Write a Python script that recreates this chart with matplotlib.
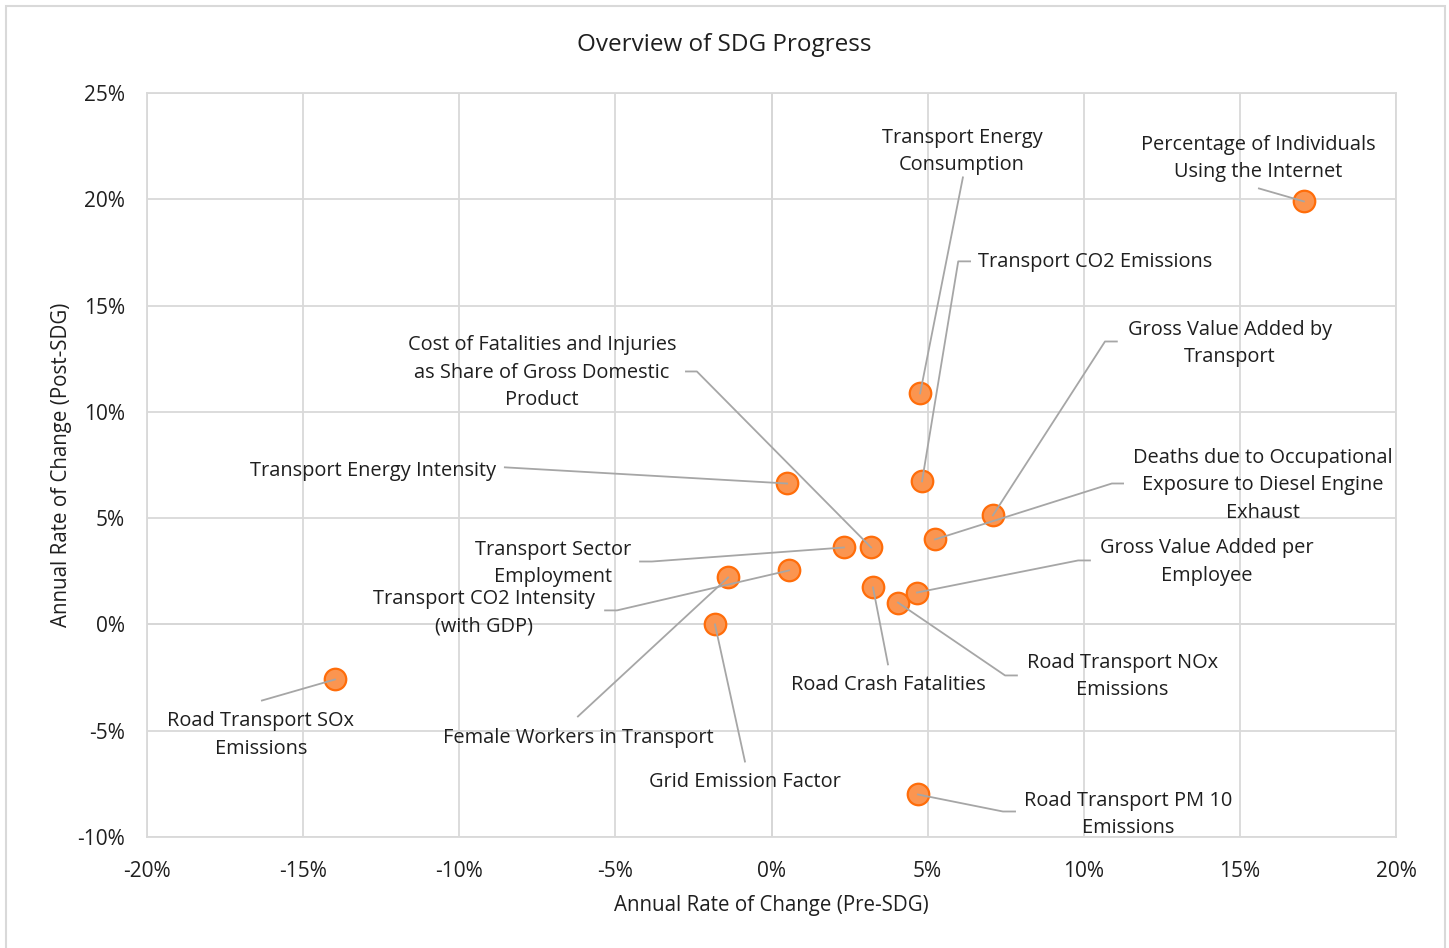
import matplotlib
matplotlib.use("Agg")
import matplotlib.pyplot as plt
from matplotlib.ticker import FuncFormatter, MultipleLocator

plt.rcParams["font.family"] = ["Open Sans", "DejaVu Sans"]

# --- data: annual rate of change, percent ---
labels = [
    "Percentage of Individuals\nUsing the Internet",
    "Transport Energy\nConsumption",
    "Transport CO2 Emissions",
    "Gross Value Added by\nTransport",
    "Deaths due to Occupational\nExposure to Diesel Engine\nExhaust",
    "Transport Energy Intensity",
    "Cost of Fatalities and Injuries\nas Share of Gross Domestic\nProduct",
    "Transport Sector\nEmployment",
    "Transport CO2 Intensity\n(with GDP)",
    "Female Workers in Transport",
    "Grid Emission Factor",
    "Road Crash Fatalities",
    "Road Transport NOx\nEmissions",
    "Gross Value Added per\nEmployee",
    "Road Transport PM 10\nEmissions",
    "Road Transport SOx\nEmissions",
]
pre_sdg = [17.05, 4.76, 4.82, 7.09, 5.24, 0.50, 3.19, 2.32, 0.56, -1.39, -1.81, 3.25, 4.05, 4.66, 4.69, -13.98]
post_sdg = [19.90, 10.87, 6.73, 5.13, 4.00, 6.63, 3.62, 3.62, 2.54, 2.21, 0.00, 1.74, 1.03, 1.50, -8.00, -2.59]

# --- layout: label centre, leader start, horizontal stub (0 = none) ---
label_pos = [(15.58, 21.92), (6.10, 22.25), (10.36, 17.03), (14.68, 13.22),
             (15.74, 6.54), (-12.76, 7.24), (-7.35, 11.85), (-7.00, 2.87),
             (-9.21, 0.56), (-6.20, -5.32), (-0.85, -7.39), (3.73, -2.87),
             (11.23, -2.45), (13.95, 2.92), (11.42, -8.94), (-16.35, -5.22)]
leader_start = [(15.61, 20.51), (6.13, 21.03), (6.36, 17.08), (11.06, 13.31),
                (11.26, 6.63), (-8.54, 7.39), (-2.74, 11.90), (-4.21, 2.96),
                (-5.33, 0.66), (-6.20, -4.33), (-0.85, -6.45), (3.73, -1.88),
                (7.86, -2.40), (10.20, 3.01), (7.80, -8.80), (-16.32, -3.58)]
stub = [0, 0, -0.38, -0.38, -0.36, 0, 0.35, 0.38, 0.38, 0, 0, 0, -0.38, -0.38, -0.39, 0]

fig = plt.figure(figsize=(14.49, 9.48), dpi=100)
ax = fig.add_axes([147 / 1449, 1 - 837 / 948, (1396 - 147) / 1449, (837 - 93) / 948])

grid_c = "#d9d9d9"
text_c = "#1f1f1f"
ax.set_xlim(-20, 20)
ax.set_ylim(-10, 25)
ax.xaxis.set_major_locator(MultipleLocator(5))
ax.yaxis.set_major_locator(MultipleLocator(5))
pct = FuncFormatter(lambda v, _: f"{v:.0f}%")
ax.xaxis.set_major_formatter(pct)
ax.yaxis.set_major_formatter(pct)
ax.grid(True, color=grid_c, linewidth=1.3, zorder=0)
ax.axhline(0, color="#bfbfbf", linewidth=1.3, zorder=1)
ax.axvline(0, color="#bfbfbf", linewidth=1.3, zorder=1)
for s in ax.spines.values():
    s.set_color(grid_c)
    s.set_linewidth(1.3)
ax.tick_params(length=0, labelsize=15, colors=text_c)
ax.tick_params(axis="y", pad=16)
ax.tick_params(axis="x", pad=17)

ax.scatter(pre_sdg, post_sdg, s=240, color="#fb9550", edgecolor="#ff6d0a",
           linewidth=1.6, zorder=3)

for i, lab in enumerate(labels):
    sx, sy = leader_start[i]
    xs, ys = [sx], [sy]
    if stub[i]:
        xs.append(sx + stub[i])
        ys.append(sy)
    xs.append(pre_sdg[i])
    ys.append(post_sdg[i])
    ax.plot(xs, ys, color="#a6a6a6", linewidth=1.3, zorder=4)
    lx, ly = label_pos[i]
    ax.text(lx, ly, lab, ha="center", va="center", fontsize=14.4,
            color=text_c, linespacing=1.52, zorder=5)

ax.set_xlabel("Annual Rate of Change (Pre-SDG)", fontsize=14.8, color=text_c, labelpad=10)
ax.set_ylabel("Annual Rate of Change (Post-SDG)", fontsize=14.8, color=text_c)
ax.yaxis.set_label_coords(-0.06, 0.5)
fig.text(0.5, 1 - 45 / 948, "Overview of SDG Progress", ha="center", va="center",
         fontsize=17.5, color=text_c)

fig.patches.append(plt.Rectangle((6 / 1449, -0.01), (1445 - 6) / 1449, 1 - 6 / 948 + 0.01,
                                 transform=fig.transFigure, fill=False,
                                 edgecolor="#d9d9d9", linewidth=1.5))

fig.savefig("out.png", dpi=100)
